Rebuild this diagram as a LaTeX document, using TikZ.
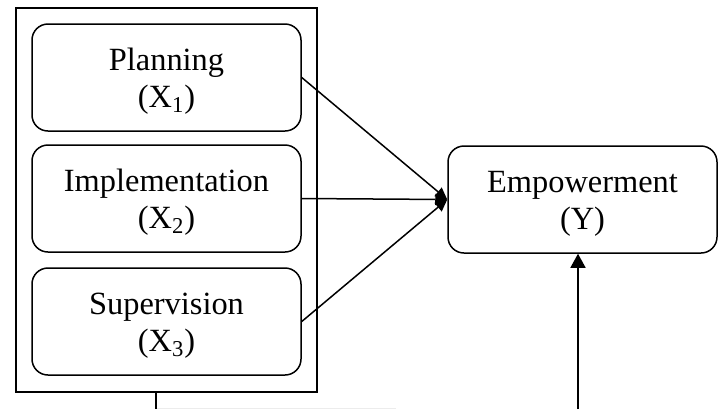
\documentclass[tikz,border=0pt]{standalone}
\usepackage{fontspec}
\setmainfont{Liberation Serif}
\usetikzlibrary{arrows.meta}
\begin{document}
\begin{tikzpicture}[x=0.5pt,y=-0.5pt,
  line width=0.75pt,
  var/.style={draw, rounded corners=8pt, minimum width=134.5pt, minimum height=53.5pt, inner sep=0pt},
  lbl/.style={align=center, inner sep=0pt, font=\fontsize{16.2}{18.5}\selectfont},
  frame/.style={draw, minimum width=150.5pt, minimum height=192pt, inner sep=0pt},
  conn/.style={-{Triangle[length=6pt,width=5.5pt]}}]
\useasboundingbox (0,0) rectangle (723,409);
\node[frame] (outer) at (166.5,200) {};
\node[var] (x1) at (166.5,77.5) {};
\node[var] (x2) at (166.5,198.5) {};
\node[var] (x3) at (166.5,321.5) {};
\node[var] (y) at (582.5,199.5) {};
\node[lbl] (t1) at ([yshift=-2pt]x1.center) {Planning\\(X\textsubscript{1})};
\node[lbl] (t2) at ([yshift=-2pt]x2.center) {Implementation\\(X\textsubscript{2})};
\node[lbl] (t3) at ([yshift=-2pt]x3.center) {Supervision\\(X\textsubscript{3})};
\node[lbl] (ty) at ([yshift=-2pt]y.center) {Empowerment\\(Y)};
\coordinate (stem) at (156,409);
\coordinate (base) at (578,409);
\draw[conn] (x1.east) -- (y.west);
\draw[conn] (x2.east) -- (y.west);
\draw[conn] (x3.east) -- (y.west);
\draw (outer.south -| stem) -- (stem);
\draw[-{Triangle[length=7pt,width=7.5pt]}] (base) -- (y.south -| base);
\draw[gray!15, line width=0.5pt] (157,408.5) -- (396,408.5);
\end{tikzpicture}
\end{document}
